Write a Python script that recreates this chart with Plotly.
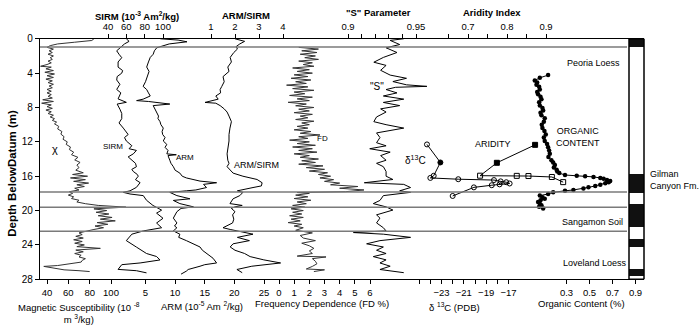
import plotly.graph_objects as go

# ---------------- data (depth below datum in m) ----------------
chi_depth = [0.0, 0.2, 0.4, 0.6, 0.8, 1.0, 1.2, 1.4, 1.6, 1.8, 2.0, 2.2, 2.4, 2.6, 2.8, 3.0, 3.2, 3.3,
             3.5, 3.7, 3.9, 4.1, 4.3, 4.5, 4.7, 4.9, 5.1, 5.3, 5.5, 5.7, 5.9, 6.1, 6.3, 6.5, 6.7, 6.9,
             7.1, 7.3, 7.5, 7.7, 7.9, 8.1, 8.3, 8.5, 8.7, 8.9, 9.1, 9.3, 9.5, 9.7, 9.9,
             10.2, 10.5, 10.8, 11.1, 11.4, 11.7, 12.0, 12.3, 12.6, 12.9, 13.2, 13.5, 13.8, 14.1, 14.4,
             14.7, 15.0, 15.3, 15.6,
             15.8, 16.0, 16.2, 16.4, 16.6, 16.8, 17.0, 17.2, 17.4, 17.6, 17.8, 18.0, 18.2, 18.4, 18.6,
             18.8, 19.0, 19.2, 19.4, 19.6, 19.8, 20.0, 20.2, 20.4, 20.6, 20.8, 21.0, 21.2, 21.4, 21.6,
             21.8, 22.0, 22.2, 22.4, 22.6, 22.8, 23.0, 23.2, 23.4, 23.6, 23.8, 24.0, 24.2, 24.4, 24.6,
             24.8, 25.0, 25.2, 25.4, 25.6, 25.8, 26.0, 26.2, 26.4, 26.5, 26.7, 26.9, 27.0, 27.1]
chi_value = [84, 82, 66, 50, 43, 40, 46, 42, 45, 41, 46, 43, 45, 41, 44, 40, 34, 44,
             39, 46, 38, 47, 40, 46, 39, 45, 41, 46, 42, 45, 40, 44, 40, 44, 41, 45,
             36, 46, 35, 44, 40, 45, 39, 44, 41, 46, 43, 47, 45, 49, 47,
             51, 50, 54, 53, 56, 55, 59, 58, 62, 61, 65, 63, 69, 66, 71,
             68, 70, 67, 74,
             64, 78, 62, 76, 65, 79, 68, 75, 66, 70, 61, 64, 60, 65, 63,
             70, 68, 76, 88, 114, 84, 96, 86, 98, 88, 101, 90, 104, 87, 97,
             85, 93, 84, 76, 70, 73, 67, 74, 65, 73, 66, 75, 68, 90, 67,
             74, 66, 72, 70, 76, 73, 72, 62, 50, 37, 48, 56, 70, 80]

sirm_depth = [0.0, 0.3, 0.6, 1.05, 1.4, 1.8, 2.2, 2.7, 3.3, 3.7, 4.0, 4.4, 4.8, 5.3, 5.9, 6.3, 7.0,
              7.4, 7.6, 8.2, 8.7, 9.3, 9.8, 10.4, 10.8, 11.15, 11.5, 11.9, 12.45, 12.8, 13.0, 13.4,
              13.75, 14.15, 14.5, 14.9, 15.2, 15.45, 15.8, 16.0, 16.4, 16.75, 17.1, 17.3, 17.7, 17.88,
              18.07, 18.26, 18.8, 19.4, 19.95, 20.3, 20.9, 21.45, 22.0, 22.37, 22.75, 23.5, 24.25,
              25.0, 25.35, 25.75, 26.1, 26.3, 26.85, 27.0, 27.25]
sirm_value = [60, 63, 58, 53, 49.5, 52, 55, 51, 51, 56, 55, 50, 49.5, 53, 49.5, 54, 51,
              60, 50, 53, 55, 55, 52, 56.7, 60, 62, 58, 60, 66, 63, 71, 67.6,
              62, 66, 70, 71, 66, 67.6, 72, 73, 70, 75, 72, 71, 64, 56.7,
              64, 78.5, 82, 89, 98.5, 93, 100, 93, 98.5, 78.5, 66, 60, 71,
              82, 93, 96.7, 75, 55, 51, 71, 82]

arm_depth = [0.0, 0.15, 0.35, 0.6, 1.05, 1.4, 1.8, 2.17, 2.7, 3.29, 3.8, 4.41, 5.0, 5.54, 5.91, 6.3,
             6.66, 7.03, 7.2, 7.3, 7.41, 7.6, 7.78, 8.16, 8.53, 9.0, 9.28, 9.65, 10.0, 10.4, 10.8,
             11.15, 11.5, 11.9, 12.3, 12.64, 13.0, 13.4, 13.5, 13.6, 14.14, 14.5, 14.89, 15.3, 15.64,
             16.0, 16.2, 16.57, 16.76, 16.95, 17.32, 17.6, 17.7, 17.88, 18.26, 18.63, 18.82, 19.19,
             19.57, 19.75, 20.13, 20.5, 20.88, 21.44, 21.8, 22.0, 22.37, 22.75, 23.12, 23.5, 24.24,
             24.62, 25.0, 25.36, 25.55, 26.1, 26.3, 26.48, 26.86, 27.05, 27.4]
arm_value = [7.5, 10.5, 12, 9, 6.9, 6.5, 6.3, 5.8, 5.5, 5.2, 5.6, 5.3, 5.0, 4.6, 5.2, 5.5,
             5.8, 4.6, 3.5, 5.5, 6.9, 9.1, 6.3, 6.6, 6.9, 7.2, 7.1, 7.45, 7.6, 8.0, 7.8,
             7.9, 8.3, 8.0, 8.6, 8.3, 8.8, 8.6, 10.2, 8.8, 9.1, 9.3, 9.7, 10.0, 10.8,
             11.2, 11.9, 14.2, 17.0, 14.8, 15.3, 13.5, 11.9, 9.1, 10.3, 12.5, 9.7, 10.8,
             13.1, 11.0, 10.3, 10.0, 9.7, 10.3, 9.9, 10.3, 9.7, 10.8, 10.6, 11.9, 14.2,
             14.6, 15.3, 15.9, 16.4, 17.0, 15.0, 14.2, 12.2, 11.9, 11.0]

ratio_depth = [0.0, 0.3, 0.6, 0.9, 1.2, 1.6, 2.17, 2.7, 3.29, 3.8, 4.41, 5.0, 5.54, 5.91, 6.3, 6.66,
               7.03, 7.2, 7.41, 7.5, 7.78, 8.16, 8.53, 9.0, 9.28, 9.65, 10.4, 11.15, 11.9, 12.64,
               13.4, 14.14, 14.5, 14.89, 15.3, 15.64, 16.0, 16.38, 16.76, 17.13, 17.32, 17.7, 17.88,
               18.26, 18.63, 19.0, 19.19, 19.4, 19.57, 19.75, 20.13, 20.5, 21.0, 21.44, 22.0, 22.2,
               22.37, 22.56, 22.75, 23.12, 23.5, 23.87, 24.24, 24.62, 25.0, 25.36, 25.74, 26.1,
               26.3, 26.48, 26.86, 27.05, 27.23]
ratio_value = [2.0, 2.4, 2.2, 2.05, 2.1, 1.95, 1.8, 1.85, 1.7, 1.75, 1.5, 1.55, 1.45, 1.38, 1.4, 1.2,
               1.3, 1.0, 0.75, 1.2, 1.38, 1.55, 1.67, 1.75, 1.79, 1.85, 1.79, 1.75, 1.75, 1.7,
               1.67, 1.7, 1.75, 1.67, 1.79, 1.92, 2.33, 2.92, 3.13, 3.1, 2.75, 2.1, 2.33,
               2.2, 1.92, 1.85, 1.79, 2.3, 2.0, 1.85, 2.0, 1.9, 1.95, 1.9, 1.5, 1.8,
               2.1, 2.4, 2.75, 2.1, 2.6, 1.92, 1.8, 2.0, 2.4, 2.63, 3.2, 3.9,
               3.3, 2.7, 2.08, 2.2, 2.3]

fd_depth = [1.0, 1.2, 1.4, 1.6, 1.8, 2.0, 2.2, 2.4, 2.6, 2.8, 3.0, 3.2, 3.4, 3.6, 3.8, 4.0, 4.2, 4.4,
            4.6, 4.8, 5.0, 5.2, 5.4, 5.6, 5.8, 6.0, 6.2, 6.4, 6.6, 6.8, 7.0, 7.2, 7.4, 7.6, 7.8, 8.0,
            8.2, 8.4, 8.6, 8.8, 9.0, 9.2, 9.4, 9.6, 9.8, 10.0, 10.2, 10.4, 10.6, 10.8, 11.0, 11.2,
            11.4, 11.6, 11.8, 12.0, 12.2, 12.4, 12.6, 12.8, 13.0, 13.2, 13.4, 13.6, 13.8, 14.0, 14.2,
            14.4, 14.6, 14.8, 15.0, 15.2, 15.4, 15.6, 15.8, 16.0, 16.2, 16.4, 16.6, 16.8, 17.0, 17.2,
            17.4, 17.6, 17.8, 17.9,
            18.0, 18.2, 18.4, 18.6, 18.8, 19.0, 19.2, 19.4, 19.6, 19.8, 20.0, 20.2, 20.4, 20.6, 20.8,
            21.0, 21.2, 21.4, 21.6, 21.8, 22.0,
            22.3, 22.6, 22.9, 23.2, 23.5, 23.8, 24.1, 24.4, 24.7, 25.0, 25.3, 25.4, 25.6, 25.9, 26.2,
            26.5, 26.8, 26.9, 27.1]
fd_value = [1.3, 2.6, 1.5, 2.5, 1.4, 2.4, 1.7, 2.6, 1.3, 2.2, 1.6, 2.3, 0.9, 2.0, 1.2, 2.2, 1.0, 1.9,
            0.8, 2.1, 1.1, 1.8, 0.5, 1.9, 0.9, 2.3, 1.0, 1.7, 0.7, 2.2, 1.2, 2.0, 0.6, 1.8, 1.1, 2.3,
            1.3, 2.0, 1.0, 2.2, 1.4, 1.9, 1.1, 2.3, 1.5, 2.0, 1.2, 1.9, 1.0, 2.1, 1.4, 2.7,
            1.3, 1.9, 0.7, 2.0, 1.2, 2.4, 0.9, 2.2, 1.3, 2.5, 1.0, 2.0, 1.4, 2.6, 1.5,
            2.4, 1.3, 2.9, 1.8, 3.0, 2.0, 3.2, 2.6, 3.4, 2.7, 3.6, 3.0, 4.0, 3.4, 5.2,
            4.0, 5.6, 4.4, 1.2,
            2.0, 1.1, 1.9, 1.0, 2.1, 1.2, 1.8, 0.9, 1.7, 0.8, 1.6, 0.9, 1.5, 0.7, 1.6,
            0.8, 1.4, 0.6, 1.5, 1.0, 1.6,
            1.1, 2.2, 1.4, 1.6, 2.4, 1.5, 2.0, 2.3, 2.0, 2.2, 1.2, 3.1, 2.2, 2.4, 2.5,
            2.2, 1.8, 3.0, 2.3]

s_depth = [0.0, 0.19, 0.67, 1.05, 1.6, 2.17, 2.73, 3.1, 3.67, 4.23, 4.6, 4.98, 5.36, 5.54, 5.65, 5.91,
           6.3, 6.66, 7.03, 7.41, 7.78, 8.16, 8.53, 9.1, 9.65, 10.0, 10.4, 10.96, 11.5, 12.1, 12.46,
           12.8, 13.2, 13.6, 14.14, 14.5, 14.89, 15.45, 16.0, 16.38, 16.76, 16.95, 17.32, 17.7,
           17.88, 18.26, 18.82, 19.19, 19.57, 19.94, 20.5, 20.88, 21.44, 22.0, 22.37, 22.56, 22.75,
           23.12, 23.5, 23.87, 24.24, 24.62, 25.0, 25.36, 25.74, 26.1, 26.48, 26.86, 27.23]
s_value = [0.941, 0.931, 0.938, 0.928, 0.936, 0.926, 0.919, 0.928, 0.924, 0.931, 0.943, 0.933, 0.943,
           0.958, 0.935, 0.928, 0.936, 0.926, 0.941, 0.926, 0.938, 0.924, 0.928, 0.921, 0.919, 0.928,
           0.941, 0.921, 0.9235, 0.921, 0.928, 0.916, 0.931, 0.924, 0.928, 0.921, 0.926, 0.928,
           0.928, 0.933, 0.912, 0.941, 0.946, 0.938, 0.946, 0.926, 0.9235, 0.9186, 0.928, 0.933,
           0.921, 0.9235, 0.921, 0.926, 0.928, 0.904, 0.926, 0.946, 0.9235, 0.9137, 0.926, 0.921,
           0.928, 0.9186, 0.928, 0.9235, 0.931, 0.9235, 0.941]

d13c_depth = [12.3, 14.4, 15.95, 16.2, 16.35, 16.45, 16.6, 16.7, 16.85, 16.95, 17.05, 17.3, 18.3]
d13c_value = [-24.3, -23.1, -23.7, -24.0, -21.5, -18.3, -17.7, -17.2, -16.9, -17.8, -18.5, -20.1, -22.0]

arid_depth = [12.35, 14.44, 15.94, 15.96, 15.98, 16.09, 16.69]
arid_value = [0.872, 0.774, 0.731, 0.825, 0.855, 0.915, 0.944]

org_depth = [4.23, 4.55, 4.86, 5.1, 5.35, 5.6, 5.91, 6.2, 6.47, 6.75, 7.03, 7.4, 7.78, 8.05, 8.34, 8.6,
             8.9, 9.25, 9.65, 10.0, 10.4, 10.75, 11.15, 11.5, 11.9, 12.25, 12.64, 13.0, 13.39, 13.75,
             14.14, 14.4, 14.7, 15.0, 15.26, 15.45, 15.64, 15.86, 15.94, 16.0, 16.08, 16.2, 16.31,
             16.45, 16.57, 16.7, 16.83, 17.0, 17.13, 17.3, 17.43, 17.6, 17.7, 17.88, 18.07, 18.26,
             18.45, 18.63, 18.8, 19.0, 19.2, 19.38, 19.55, 19.75]
org_value = [0.14, 0.068, 0.024, 0.045, 0.039, 0.062, 0.068, 0.045, 0.053, 0.074, 0.082, 0.062, 0.068,
             0.091, 0.097, 0.074, 0.082, 0.111, 0.103, 0.085, 0.091, 0.108, 0.12, 0.103, 0.111, 0.131,
             0.14, 0.149, 0.155, 0.143, 0.169, 0.184, 0.199, 0.19, 0.214, 0.22, 0.237, 0.287, 0.389,
             0.462, 0.535, 0.594, 0.623, 0.652, 0.68, 0.667, 0.637, 0.594, 0.55, 0.491, 0.447, 0.36,
             0.287, 0.184, 0.14, 0.068, 0.091, 0.111, 0.074, 0.053, 0.068, 0.082, 0.062, 0.097]

# stratigraphic column: dark (soil) units, top and base depth
litho_top = [0.0, 15.7, 19.2, 23.3, 26.8]
litho_base = [0.98, 17.9, 21.9, 24.2, 27.6]
boundary_depth = [0.95, 17.85, 19.6, 22.4]

# ---------------- page geometry (pixels) ----------------
W, H = 700, 333
FRAME_L, FRAME_R = 40, 644
FRAME_T, FRAME_B = 34, 283.5
LINE_R = 627
COL_L, COL_R = 629, 644
FONT = "Liberation Sans, Arial, sans-serif"


def fx(p):
    return p / W


def fy(p):
    return 1 - p / H


def calib(v0, p0, v1, p1):
    """Axis range so that value v0 sits at pixel p0 and v1 at p1."""
    k = (p1 - p0) / (v1 - v0)
    return [v0 + (FRAME_L - p0) / k, v0 + (FRAME_R - p0) / k]


fig = go.Figure()

line_kw = dict(color="black", width=1)
dense_kw = dict(color="#333333", width=1)
fig.add_trace(go.Scatter(x=chi_value, y=chi_depth, mode="lines", line=dense_kw, xaxis="x", yaxis="y"))
fig.add_trace(go.Scatter(x=sirm_value, y=sirm_depth, mode="lines", line=line_kw, xaxis="x2", yaxis="y"))
fig.add_trace(go.Scatter(x=arm_value, y=arm_depth, mode="lines", line=line_kw, xaxis="x3", yaxis="y"))
fig.add_trace(go.Scatter(x=ratio_value, y=ratio_depth, mode="lines", line=line_kw, xaxis="x4", yaxis="y"))
fig.add_trace(go.Scatter(x=fd_value, y=fd_depth, mode="lines", line=dense_kw, xaxis="x5", yaxis="y"))
fig.add_trace(go.Scatter(x=s_value, y=s_depth, mode="lines", line=line_kw, xaxis="x6", yaxis="y"))
fig.add_trace(go.Scatter(x=arid_value, y=arid_depth, mode="lines+markers", line=line_kw,
                         marker=dict(symbol=["square", "square"] + ["square-open"] * (len(arid_value) - 2),
                                     size=5, color="black", line=dict(color="black", width=1)),
                         xaxis="x7", yaxis="y"))
fig.add_trace(go.Scatter(x=d13c_value, y=d13c_depth, mode="lines+markers", line=line_kw,
                         marker=dict(symbol=["circle-open", "circle"] + ["circle-open"] * (len(d13c_value) - 2),
                                     size=5, color="black", line=dict(color="black", width=1)),
                         xaxis="x8", yaxis="y"))
fig.add_trace(go.Scatter(x=org_value, y=org_depth, mode="lines+markers", line=line_kw,
                         marker=dict(symbol="circle", size=4.5, color="black"),
                         xaxis="x9", yaxis="y"))

# stratigraphic column
fig.add_trace(go.Bar(x=[0] * len(litho_top), y=[b - t for t, b in zip(litho_top, litho_base)],
                     base=litho_top, width=1, marker=dict(color="#111", line=dict(width=0)),
                     xaxis="x10", yaxis="y"))

TICK_SIZE = 9.5
tick_font = dict(family=FONT, size=TICK_SIZE, color="black")
common = dict(anchor="y", domain=[fx(FRAME_L), fx(FRAME_R)], showgrid=False, zeroline=False,
              ticks="outside", ticklen=4, tickwidth=1, tickcolor="black", tickfont=tick_font,
              showline=False, fixedrange=True)


def minor(vals):
    return dict(tickmode="array", tickvals=vals, ticks="outside", ticklen=4, tickwidth=1,
                tickcolor="black", showgrid=False)


layout_axes = {
    "xaxis": dict(common, side="bottom", range=calib(40, 47, 100, 111), tickvals=[40, 60, 80, 100],
                  showline=True, linecolor="black", linewidth=1.2),
    "xaxis2": dict(common, side="top", overlaying="x", range=calib(40, 108, 100, 163),
                   tickvals=[40, 60, 80, 100], showline=True, linecolor="black", linewidth=1.2),
    "xaxis3": dict(common, side="bottom", overlaying="x", range=calib(5, 145.5, 25, 264),
                   tickvals=[5, 10, 15, 20, 25]),
    "xaxis4": dict(common, side="top", overlaying="x", range=calib(1, 211, 4, 283), tickvals=[1, 2, 3, 4]),
    "xaxis5": dict(common, side="bottom", overlaying="x", range=calib(0, 279, 6, 370),
                   tickvals=[0, 1, 2, 3, 4, 5, 6]),
    "xaxis6": dict(common, side="top", overlaying="x", range=calib(0.9, 348, 0.95, 416),
                   tickvals=[0.9, 0.95], ticktext=["0.9", "0.95"],
                   minor=minor([0.91, 0.92, 0.93, 0.94])),
    "xaxis7": dict(common, side="top", overlaying="x", range=calib(0.7, 468, 0.9, 546),
                   tickvals=[0.7, 0.8, 0.9], minor=minor([0.65, 0.75, 0.85])),
    "xaxis8": dict(common, side="bottom", overlaying="x", range=calib(-23, 441.5, -17, 508.5),
                   tickvals=[-23, -21, -19, -17], minor=minor([-25, -24, -22, -20, -18])),
    "xaxis9": dict(common, side="bottom", overlaying="x", range=calib(0.3, 566.5, 0.9, 635.5),
                   tickvals=[0.3, 0.5, 0.7, 0.9]),
    "xaxis10": dict(anchor="y", domain=[fx(COL_L), fx(COL_R)], range=[-0.5, 0.5], visible=False,
                    fixedrange=True),
}

shapes = []
for d in boundary_depth:
    shapes.append(dict(type="line", xref="paper", yref="y", x0=fx(FRAME_L), x1=fx(LINE_R), y0=d, y1=d,
                       line=dict(color="#7a7a7a", width=1.5)))
shapes.append(dict(type="rect", xref="paper", yref="y", x0=fx(COL_L), x1=fx(COL_R), y0=0, y1=28,
                   line=dict(color="black", width=1.5)))

annotations = []


def label(text, x, y, size=9.5, bold=False, angle=0, align="center", xanchor="center"):
    annotations.append(dict(text=f"<b>{text}</b>" if bold else text, x=fx(x), y=fy(y), xref="paper",
                            yref="paper", showarrow=False, textangle=angle, align=align,
                            xanchor=xanchor, yanchor="middle",
                            font=dict(family=FONT, size=size, color="black")))


# axis titles
label("Depth BelowDatum (m)", 12, 174, size=11.5, bold=True, angle=-90)
label("SIRM (10<sup>-3</sup> Am<sup>2</sup>/kg)", 137, 10, size=9.5, bold=True)
label("ARM/SIRM", 246, 10, size=9.5, bold=True)
label("\"S\" Parameter", 378, 7, size=9.5, bold=True)
label("Aridity Index", 492, 7, size=9.5, bold=True)
label("Magnetic Susceptibility (10 <sup>-8</sup><br>m <sup>3</sup>/kg)", 79, 318, size=9.5)
label("ARM (10<sup>-5</sup> Am <sup>2</sup>/kg)", 202, 311, size=9.5)
label("Frequency Dependence (FD %)", 322, 309, size=9.5)
label("δ <sup>13</sup>C (PDB)", 454, 312, size=9.5)
label("Organic Content (%)", 581, 309, size=9.5)

# curve labels
label("χ", 55, 148, size=11)
label("SIRM", 113, 146, size=8)
label("ARM", 185, 157, size=8)
label("ARM/SIRM", 256, 165, size=9)
label("FD", 322, 137, size=8)
label("\"S\"", 377, 83, size=10)
label("δ<sup>13</sup>C", 415, 160, size=10)
label("ARIDITY", 493, 143, size=9)
label("ORGANIC<br>CONTENT", 578, 136, size=9)

# stratigraphic unit names
label("Peoria Loess", 593, 59, size=9)
label("Gilman<br>Canyon Fm.", 648, 181, size=9, align="left", xanchor="left")
label("Sangamon Soil", 592, 224, size=9)
label("Loveland Loess", 595, 267, size=9)

fig.update_layout(
    width=W, height=H, margin=dict(l=0, r=0, t=0, b=0),
    paper_bgcolor="white", plot_bgcolor="rgba(0,0,0,0)", showlegend=False,
    font=dict(family=FONT, color="black"),
    yaxis=dict(domain=[fy(FRAME_B), fy(FRAME_T)], range=[28, 0], anchor="x",
               tickvals=[0, 4, 8, 12, 16, 20, 24, 28], ticks="outside", ticklen=4, tickcolor="black",
               tickfont=dict(family=FONT, size=10, color="black"), showline=True, linecolor="black",
               linewidth=1.2, showgrid=False, zeroline=False, fixedrange=True),
    shapes=shapes, annotations=annotations, bargap=0,
    **layout_axes,
)

fig.write_html("out.html")
